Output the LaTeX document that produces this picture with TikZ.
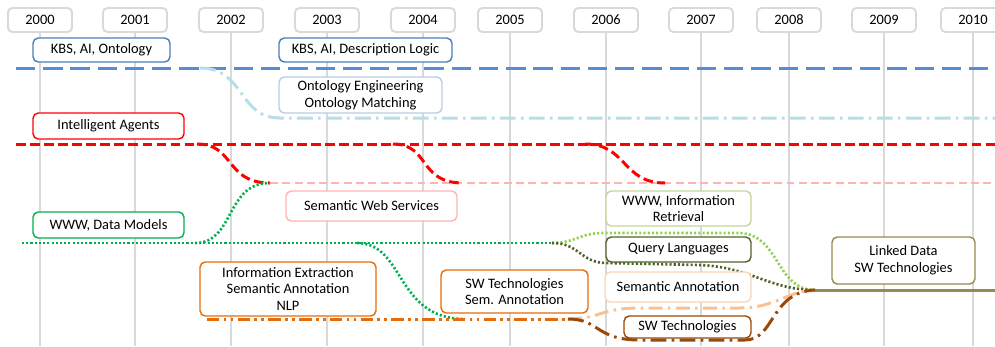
\documentclass[tikz,border=0pt]{standalone}
\usepackage{fontspec}
\setmainfont{Carlito}
\usetikzlibrary{positioning}
\definecolor{gridgray}{HTML}{D9D9D9}
\definecolor{kbsblue}{HTML}{558ED5}
\definecolor{kbsbox}{HTML}{4A7EBB}
\definecolor{ontoblue}{HTML}{B7DEE8}
\definecolor{ontobox}{HTML}{B9CDE5}
\definecolor{swspink}{HTML}{FFB3B3}
\definecolor{wwwgreen}{HTML}{00B050}
\definecolor{irgreen}{HTML}{92D050}
\definecolor{irbox}{HTML}{C3D69B}
\definecolor{qlgreen}{HTML}{4F6228}
\definecolor{ieorange}{HTML}{E46C0A}
\definecolor{sapeach}{HTML}{FAC090}
\definecolor{sabox}{HTML}{FCD5B5}
\definecolor{swtbrown}{HTML}{984807}
\definecolor{ldolive}{HTML}{948A54}
\tikzset{
    yearbox/.style = {rectangle, rounded corners=2.5pt, draw=gridgray, line width=1.1pt, fill=white, minimum width=1.28cm, minimum height=0.48cm, inner sep=0pt},
    topic/.style = {rectangle, rounded corners=3pt, line width=0.8pt, fill=white, align=center, inner sep=0pt},
    gridline/.style = {draw=gridgray, line width=0.8pt},
    kbsline/.style = {line width=1.7pt, kbsblue, dash pattern=on 11pt off 4.5pt},
    ontoline/.style = {line width=1.7pt, ontoblue, dash pattern=on 9pt off 3pt on 1.5pt off 3pt},
    agentline/.style = {line width=1.7pt, red, dash pattern=on 5.5pt off 2.5pt},
    swsline/.style = {line width=1.1pt, swspink, dash pattern=on 4.5pt off 2.5pt},
    wwwline/.style = {line width=1.5pt, wwwgreen, dash pattern=on 1.2pt off 1.2pt},
    irline/.style = {line width=1.5pt, irgreen, dash pattern=on 1.2pt off 1.2pt},
    qlline/.style = {line width=1.5pt, qlgreen, dash pattern=on 1.2pt off 1.2pt},
    ieline/.style = {line width=1.7pt, ieorange, dash pattern=on 7pt off 2.5pt on 1.5pt off 2.5pt on 1.5pt off 2.5pt},
    saline/.style = {line width=1.7pt, sapeach, dash pattern=on 8pt off 3pt on 1.5pt off 3pt},
    swtline/.style = {line width=1.7pt, swtbrown, dash pattern=on 9pt off 3pt on 1.5pt off 3pt},
    ldline/.style = {line width=1.7pt, ldolive}
}
\begin{document}
\begin{tikzpicture}[x=0.02cm, y=-0.02cm, font=\fontsize{8.2}{9.6}\selectfont]
  \useasboundingbox (0,0) rectangle (995,346);

  \foreach \x/\yr in {40/2000,135/2001,231/2002,327/2003,423/2004,510/2005,606/2006,701/2007,789/2008,884/2009,973/2010}{
    \node[yearbox] (y\yr) at (\x,20) {\yr};
    \coordinate (g\yr) at (\x,346);
    \draw[gridline] (y\yr.south) -- (g\yr);
  }

  \coordinate (kbsA) at (16,68);   \coordinate (kbsB) at (995,68);
  \coordinate (ontA) at (200,68);  \coordinate (ontB) at (280,118); \coordinate (ontC) at (995,118);
  \coordinate (iaA) at (16,144);   \coordinate (iaB) at (995,144);
  \coordinate (ia1) at (197,144);  \coordinate (sws1) at (270,183);
  \coordinate (ia2) at (393,144);  \coordinate (sws2) at (463,183);
  \coordinate (ia3) at (585,144);  \coordinate (sws3) at (665,183);
  \coordinate (swsB) at (995,183);
  \coordinate (wwwA) at (22,243);  \coordinate (www1) at (195,243);
  \coordinate (www2) at (357,243); \coordinate (wwwB) at (552,243);
  \coordinate (ie2) at (465,319);
  \coordinate (ir1) at (603,233);  \coordinate (ir2) at (738,233);
  \coordinate (ql1) at (607,263);  \coordinate (ql2) at (700,265);
  \coordinate (ieA) at (207,319);  \coordinate (ieB) at (568,319);
  \coordinate (sa1) at (640,308);  \coordinate (sa2) at (740,308);
  \coordinate (swt1) at (640,340); \coordinate (swt2) at (745,340);
  \coordinate (merge) at (815,290); \coordinate (ldB) at (995,290);

  \draw[kbsline] (kbsA) -- (kbsB);
  \draw[ontoline] (ontA) .. controls (245,68) and (238,118) .. (ontB) -- (ontC);
  \draw[swsline] (sws1) -- (swsB);
  \draw[agentline] (iaA) -- (iaB);
  \draw[agentline] (ia1) .. controls (235,144) and (225,183) .. (sws1);
  \draw[agentline] (ia2) .. controls (430,144) and (418,183) .. (sws2);
  \draw[agentline] (ia3) .. controls (627,144) and (622,183) .. (sws3);
  \draw[wwwline] (www1) .. controls (235,243) and (225,183) .. (sws1);
  \draw[wwwline] (wwwA) -- (wwwB);
  \draw[wwwline] (www2) .. controls (405,243) and (395,319) .. (ie2);
  \draw[ieline] (ieA) -- (ieB);
  \draw[irline] (wwwB) .. controls (575,243) and (580,233) .. (ir1) -- (ir2) .. controls (780,233) and (775,290) .. (merge);
  \draw[qlline] (wwwB) .. controls (580,243) and (580,263) .. (ql1) -- (ql2) .. controls (750,267) and (770,290) .. (merge);
  \draw[saline] (ieB) .. controls (600,319) and (600,308) .. (sa1) -- (sa2) .. controls (775,308) and (790,290) .. (merge);
  \draw[swtline] (ieB) .. controls (600,319) and (595,340) .. (swt1) -- (swt2) .. controls (775,340) and (770,292) .. (merge);
  \draw[ldline] (merge) -- (ldB);

  \node[topic, draw=kbsbox, minimum width=2.74cm, minimum height=0.48cm] (kbs1) at (101.5,50) {KBS, AI, Ontology};
  \node[topic, draw=kbsbox, minimum width=3.46cm, minimum height=0.48cm] (kbs2) at (365.5,50) {KBS, AI, Description Logic};
  \node[topic, draw=ontobox, minimum width=3.26cm, minimum height=0.72cm] (onto) at (360.5,95) {Ontology Engineering\\Ontology Matching};
  \node[topic, draw=red, minimum width=3.02cm, minimum height=0.52cm] (agents) at (108.5,126) {Intelligent Agents};
  \node[topic, draw=swspink, minimum width=3.42cm, minimum height=0.6cm] (sws) at (371.5,206) {Semantic Web Services};
  \node[topic, draw=wwwgreen, minimum width=3.02cm, minimum height=0.52cm] (www) at (108.5,225) {WWW, Data Models};
  \node[topic, draw=ieorange, minimum width=3.52cm, minimum height=1.08cm] (ie) at (288,289) {Information Extraction\\Semantic Annotation\\NLP};
  \node[topic, draw=ieorange, minimum width=2.94cm, minimum height=0.86cm] (swsa) at (514.5,291.5) {SW Technologies\\Sem. Annotation};
  \node[topic, draw=irbox, minimum width=2.9cm, minimum height=0.7cm] (ir) at (678.5,208.5) {WWW, Information\\Retrieval};
  \node[topic, draw=qlgreen, minimum width=2.9cm, minimum height=0.5cm] (ql) at (678.5,249.5) {Query Languages};
  \node[topic, draw=sabox, minimum width=2.92cm, minimum height=0.6cm] (sa) at (678,287) {Semantic Annotation};
  \node[topic, draw=swtbrown, minimum width=2.54cm, minimum height=0.44cm] (swt) at (687.5,327) {SW Technologies};
  \node[topic, draw=ldolive, minimum width=2.86cm, minimum height=0.94cm] (ld) at (903.5,260.5) {Linked Data\\SW Technologies};
\end{tikzpicture}
\end{document}
